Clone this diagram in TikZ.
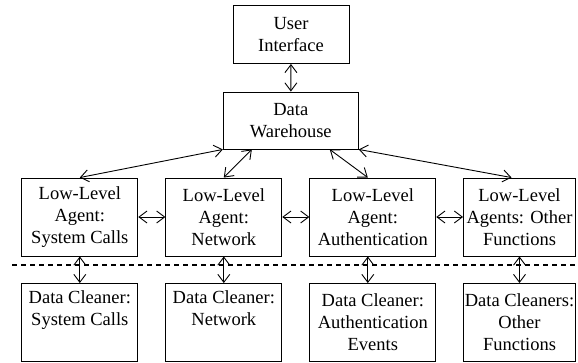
\documentclass[tikz,border=0pt]{standalone}
\usepackage{fontspec}
\setmainfont{Liberation Serif}
\usetikzlibrary{arrows.meta}

\tikzset{
  box/.style={draw, line width=0.9pt, align=center, inner sep=0pt,
    font=\fontsize{18.5}{22}\selectfont},
  unit/.style={box, minimum height=78pt},
  link/.style={<->, line width=0.9pt},
  sep/.style={line width=1.2pt, dash pattern=on 4.5pt off 4.5pt},
}

\begin{document}
\begin{tikzpicture}[x=1pt, y=-1pt, >={Straight Barb[length=8pt,width=12pt]}]
        \useasboundingbox (0,0) rectangle (578,363);

        % ----------- 上層 -----------
        \node[box, minimum width=116pt, minimum height=58pt] (ui) at (291,34.5) {User\\Interface};
        \node[box, minimum width=135pt, minimum height=57pt] (dw) at (290.8,120.5) {Data\\Warehouse};

        % ----------- agents -----------
        \node[unit, minimum width=116pt] (agsys)  at (79.8,217)  {Low-Level\\Agent:\\System Calls};
        \node[unit, minimum width=116pt] (agnet)  at (223.8,217) {Low-Level\\Agent:\\Network};
        \node[unit, minimum width=126pt] (agauth) at (372.8,217) {Low-Level\\Agent:\\Authentication};
        \node[unit, minimum width=112pt] (agoth)  at (519.5,217) {Low-Level\\Agents: Other\\Functions};

        % ----------- cleaners -----------
        \node[unit, minimum width=116pt] (clsys)  at (79.8,322.5)  {Data Cleaner:\\System Calls\\\strut};
        \node[unit, minimum width=116pt] (clnet)  at (223.8,322.5) {Data Cleaner:\\Network\\\strut};
        \node[unit, minimum width=126pt] (clauth) at (372.8,322.5) {Data Cleaner:\\Authentication\\Events};
        \node[unit, minimum width=112pt] (cloth)  at (519.5,322.5) {Data Cleaners:\\Other\\Functions};

        % 分隔虛線
        \draw[sep] (12,265) -- (578,265);

        % 上下連線
        \draw[link] (ui) -- (dw);
        \draw[link] (dw.south west) -- (agsys.north);
        \draw[link] ([xshift=29pt]dw.south west) -- (agnet.north);
        \draw[link] ([xshift=-29pt]dw.south east) -- ([xshift=-5pt]agauth.north);
        \draw[link] (dw.south east) -- ([xshift=-8pt]agoth.north);

        % agent 之間
        \draw[link] (agsys) -- (agnet);
        \draw[link] (agnet) -- (agauth);
        \draw[link] (agauth) -- (agoth);

        % agent 到 cleaner
        \draw[link] (agsys) -- (clsys);
        \draw[link] (agnet) -- (clnet);
        \draw[link] ([xshift=-5pt]agauth.south) -- ([xshift=-5pt]clauth.north);
        \draw[link] (agoth) -- (cloth);
\end{tikzpicture}
\end{document}
